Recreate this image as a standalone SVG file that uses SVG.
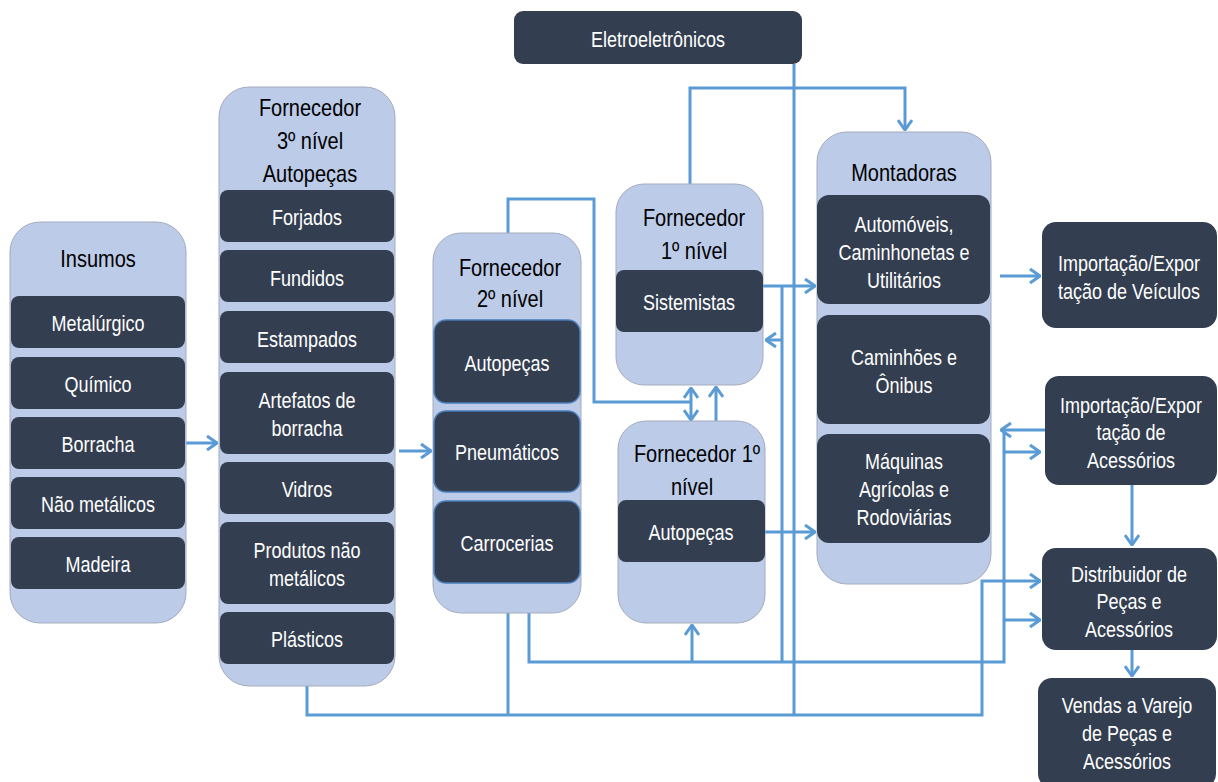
<svg xmlns="http://www.w3.org/2000/svg" width="1218" height="782" viewBox="0 0 1218 782">
<defs>
<style>
.cont{fill:#bccbe8;stroke:#a3acbd;stroke-width:1}
.dk{fill:#333e50}
.dkb{fill:#333e50;stroke:#4a7ebb;stroke-width:1.5}
.t{font-family:"Liberation Sans",Arial,sans-serif;font-size:20px;fill:#000;text-anchor:middle}
.w{font-family:"Liberation Sans",Arial,sans-serif;font-size:18px;fill:#fff;text-anchor:middle}
.c{fill:none;stroke:#5b9bd5;stroke-width:3}
</style>
<marker id="ah" viewBox="0 0 12 16" refX="11" refY="8" markerWidth="12" markerHeight="16" markerUnits="userSpaceOnUse" orient="auto-start-reverse">
<path d="M1,1 L11,8 L1,15" fill="none" stroke="#5b9bd5" stroke-width="3"/>
</marker>
</defs>
<rect width="1218" height="782" fill="#fff"/>

<g id="connectors">
<path class="c" d="M186,443 H217" marker-end="url(#ah)"/>
<path class="c" d="M399,451 H431" marker-end="url(#ah)"/>
<path class="c" d="M794,64 V715"/>
<path class="c" d="M690,184 V88 H905 V130" marker-end="url(#ah)"/>
<path class="c" d="M508,233 V199 H594 V402 H691"/>
<path class="c" d="M691,388 V420" marker-start="url(#ah)" marker-end="url(#ah)"/>
<path class="c" d="M716,421 V387" marker-end="url(#ah)"/>
<path class="c" d="M763,286 H815" marker-end="url(#ah)"/>
<path class="c" d="M782,286 V662"/>
<path class="c" d="M782,340 H766" marker-end="url(#ah)"/>
<path class="c" d="M765,532 H815" marker-end="url(#ah)"/>
<path class="c" d="M529,613 V662 H1004 V430"/>
<path class="c" d="M692,662 V625" marker-end="url(#ah)"/>
<path class="c" d="M1045,430 H1001" marker-end="url(#ah)"/>
<path class="c" d="M1003,452 H1040" marker-end="url(#ah)"/>
<path class="c" d="M1003,620 H1040" marker-end="url(#ah)"/>
<path class="c" d="M307,686 V715 H982 V581 H1040" marker-end="url(#ah)"/>
<path class="c" d="M508,613 V715"/>
<path class="c" d="M1000,276 H1040" marker-end="url(#ah)"/>
<path class="c" d="M1132,485 V545" marker-end="url(#ah)"/>
<path class="c" d="M1132,650 V676" marker-end="url(#ah)"/>
</g>

<g id="eletro">
<rect class="dk" x="514" y="11" width="288" height="53" rx="9"/>
<g transform="scale(1,1.2)">
<text class="w" x="658" y="39.17">Eletroeletrônicos</text>
</g>
</g>

<g id="insumos">
<rect class="cont" x="10" y="222" width="176" height="401" rx="30"/>
<rect class="dk" x="11" y="296" width="174" height="52" rx="8"/>
<rect class="dk" x="11" y="357" width="174" height="52" rx="8"/>
<rect class="dk" x="11" y="417" width="174" height="52" rx="8"/>
<rect class="dk" x="11" y="477" width="174" height="52" rx="8"/>
<rect class="dk" x="11" y="537" width="174" height="52" rx="8"/>
<g transform="scale(1,1.2)">
<text class="t" x="98" y="222.5">Insumos</text>
<text class="w" x="98" y="275.83">Metalúrgico</text>
<text class="w" x="98" y="326.67">Químico</text>
<text class="w" x="98" y="376.67">Borracha</text>
<text class="w" x="98" y="426.67">Não metálicos</text>
<text class="w" x="98" y="476.67">Madeira</text>
</g>
</g>

<g id="fornecedor3">
<rect class="cont" x="219" y="87" width="176" height="599" rx="30"/>
<rect class="dk" x="220" y="190" width="174" height="52" rx="8"/>
<rect class="dk" x="220" y="250" width="174" height="52" rx="8"/>
<rect class="dk" x="220" y="311" width="174" height="52" rx="8"/>
<rect class="dk" x="220" y="372" width="174" height="82" rx="8"/>
<rect class="dk" x="220" y="462" width="174" height="52" rx="8"/>
<rect class="dk" x="220" y="522" width="174" height="82" rx="8"/>
<rect class="dk" x="220" y="612" width="174" height="52" rx="8"/>
<g transform="scale(1,1.2)">
<text class="t" x="310" y="96.67">Fornecedor</text>
<text class="t" x="310" y="124.17">3º nível</text>
<text class="t" x="310" y="151.67">Autopeças</text>
<text class="w" x="307" y="187.5">Forjados</text>
<text class="w" x="307" y="238.33">Fundidos</text>
<text class="w" x="307" y="289.17">Estampados</text>
<text class="w" x="307" y="340">Artefatos de</text>
<text class="w" x="307" y="363.33">borracha</text>
<text class="w" x="307" y="414.17">Vidros</text>
<text class="w" x="307" y="465">Produtos não</text>
<text class="w" x="307" y="488.33">metálicos</text>
<text class="w" x="307" y="539.17">Plásticos</text>
</g>
</g>

<g id="fornecedor2">
<rect class="cont" x="433" y="233" width="148" height="380" rx="28"/>
<rect class="dkb" x="434" y="320" width="146" height="83" rx="12"/>
<rect class="dkb" x="434" y="411" width="146" height="81" rx="12"/>
<rect class="dkb" x="434" y="501" width="146" height="82" rx="12"/>
<g transform="scale(1,1.2)">
<text class="t" x="510" y="230">Fornecedor</text>
<text class="t" x="510" y="255.83">2º nível</text>
<text class="w" x="507" y="309.17">Autopeças</text>
<text class="w" x="507" y="383.33">Pneumáticos</text>
<text class="w" x="507" y="459.17">Carrocerias</text>
</g>
</g>

<g id="fornecedor1a">
<rect class="cont" x="616" y="184" width="147" height="201" rx="28"/>
<rect class="dk" x="616" y="270" width="147" height="62" rx="8"/>
<g transform="scale(1,1.2)">
<text class="t" x="694" y="188.33">Fornecedor</text>
<text class="t" x="694" y="215.83">1º nível</text>
<text class="w" x="689" y="258.33">Sistemistas</text>
</g>
</g>

<g id="fornecedor1b">
<rect class="cont" x="618" y="421" width="147" height="202" rx="28"/>
<rect class="dk" x="618" y="500" width="147" height="62" rx="8"/>
<g transform="scale(1,1.2)">
<text class="t" x="697" y="385">Fornecedor 1º</text>
<text class="t" x="692" y="412.5">nível</text>
<text class="w" x="691" y="450">Autopeças</text>
</g>
</g>

<g id="montadoras">
<rect class="cont" x="817" y="132" width="174" height="452" rx="30"/>
<rect class="dk" x="817" y="195" width="173" height="109" rx="12"/>
<rect class="dk" x="817" y="315" width="173" height="109" rx="12"/>
<rect class="dk" x="817" y="434" width="173" height="109" rx="12"/>
<g transform="scale(1,1.2)">
<text class="t" x="904" y="150.83">Montadoras</text>
<text class="w" x="904" y="193.33">Automóveis,</text>
<text class="w" x="904" y="216.67">Caminhonetas e</text>
<text class="w" x="904" y="240">Utilitários</text>
<text class="w" x="904" y="304.17">Caminhões e</text>
<text class="w" x="904" y="327.5">Ônibus</text>
<text class="w" x="904" y="390.83">Máquinas</text>
<text class="w" x="904" y="414.17">Agrícolas e</text>
<text class="w" x="904" y="437.5">Rodoviárias</text>
</g>
</g>

<g id="ie-veiculos">
<rect class="dk" x="1042" y="222" width="175" height="106" rx="14"/>
<g transform="scale(1,1.2)">
<text class="w" x="1129" y="225.83">Importação/Expor</text>
<text class="w" x="1129" y="249.17">tação de Veículos</text>
</g>
</g>

<g id="ie-acessorios">
<rect class="dk" x="1045" y="376" width="172" height="109" rx="14"/>
<g transform="scale(1,1.2)">
<text class="w" x="1131" y="344.17">Importação/Expor</text>
<text class="w" x="1131" y="366.67">tação de</text>
<text class="w" x="1131" y="390">Acessórios</text>
</g>
</g>

<g id="distribuidor">
<rect class="dk" x="1042" y="548" width="175" height="102" rx="14"/>
<g transform="scale(1,1.2)">
<text class="w" x="1129" y="485">Distribuidor de</text>
<text class="w" x="1129" y="507.5">Peças e</text>
<text class="w" x="1129" y="530.83">Acessórios</text>
</g>
</g>

<g id="vendas">
<rect class="dk" x="1038" y="678" width="178" height="110" rx="14"/>
<g transform="scale(1,1.2)">
<text class="w" x="1127" y="594.17">Vendas a Varejo</text>
<text class="w" x="1127" y="617.5">de Peças e</text>
<text class="w" x="1127" y="640.83">Acessórios</text>
</g>
</g>
</svg>
